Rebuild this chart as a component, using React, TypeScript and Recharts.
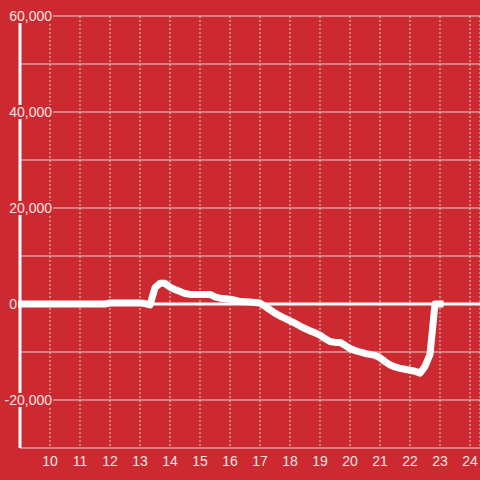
import { LineChart, Line, XAxis, YAxis, CartesianGrid, ReferenceLine } from "recharts"

const BG = "#cc2a30"
const TEXT = "#f6e4e4"
const GRID = "#d9d4d4"

const times = [
  "9:00", "10:00", "11:00", "11:50", "12:00", "13:00", "13:10", "13:20", "13:30", "13:40",
  "13:50", "14:00", "14:10", "14:20", "14:30", "14:40", "15:00", "15:20", "15:30", "15:40",
  "16:00", "16:10", "16:20", "16:40", "17:00", "17:10", "17:20", "17:30", "17:40", "17:50",
  "18:00", "18:10", "18:20", "18:30", "18:40", "18:50", "19:00", "19:10", "19:20", "19:30",
  "19:40", "19:50", "20:00", "20:10", "20:20", "20:30", "20:40", "20:50", "21:00", "21:10",
  "21:20", "21:30", "21:40", "21:50", "22:00", "22:10", "22:20", "22:30", "22:40", "22:50",
  "23:00",
]

const values = [
  0, 0, 0, 0, 200, 200, 100, -200, 3400, 4300,
  4300, 3500, 3000, 2600, 2200, 2000, 2000, 2000, 1500, 1200,
  1000, 800, 500, 400, 200, -500, -1200, -1900, -2500, -3000,
  -3500, -4000, -4600, -5100, -5600, -6000, -6500, -7200, -7800, -8000,
  -8000, -8600, -9300, -9700, -10000, -10300, -10500, -10700, -11200, -12000,
  -12700, -13100, -13400, -13600, -13800, -14000, -14400, -13000, -10500, 0,
  0,
]

const xTicks = [10, 11, 12, 13, 14, 15, 16, 17, 18, 19, 20, 21, 22, 23, 24]
const yTicks = [-30000, -20000, -10000, 0, 10000, 20000, 30000, 40000, 50000, 60000]

const toHour = (t: string) => {
  const [h, m] = t.split(":").map(Number)
  return h + m / 60
}

const data = times.map((t, i) => ({ hour: toHour(t), value: values[i] }))

function YTick(props: any) {
  const { y, payload } = props
  const v = payload.value as number
  if (v % 20000 !== 0) return null
  const label = v.toLocaleString("en-US")
  const right = v === 0 ? 17 : 52
  const left = v === 0 ? 6 : 0
  return (
    <g>
      <rect x={left} y={y - 7} width={right - left + 1} height={14} fill={BG} />
      <text
        x={right}
        y={y}
        dy="0.36em"
        textAnchor="end"
        fill={TEXT}
        fontSize={14}
        fontFamily="'Liberation Sans', Arial, sans-serif"
      >
        {label}
      </text>
    </g>
  )
}

export default function App() {
  return (
    <div style={{ position: "absolute", left: 0, top: 0, width: 480, height: 480, background: BG }}>
      <LineChart
        width={480}
        height={480}
        data={data}
        margin={{ top: 16, right: 0, bottom: 0, left: 0 }}
      >
        <CartesianGrid vertical={false} stroke={GRID} strokeWidth={1} />
        <CartesianGrid horizontal={false} stroke={GRID} strokeDasharray="2 2" />
        <XAxis
          dataKey="hour"
          type="number"
          domain={[9, 73 / 3]}
          ticks={xTicks}
          axisLine={false}
          tickLine={false}
          height={32}
          interval={0}
          tick={{ fill: TEXT, fontSize: 14, fontFamily: "'Liberation Sans', Arial, sans-serif" }}
        />
        <YAxis
          type="number"
          domain={[-30000, 60000]}
          ticks={yTicks}
          width={20}
          interval={0}
          tickLine={false}
          axisLine={{ stroke: "#ffffff", strokeWidth: 3 }}
          tick={<YTick />}
        />
        <ReferenceLine y={0} stroke="#ffffff" strokeWidth={3} />
        <Line
          dataKey="value"
          type="linear"
          stroke="#ffffff"
          strokeWidth={7}
          strokeLinecap="square"
          strokeLinejoin="round"
          dot={false}
          activeDot={false}
          isAnimationActive={false}
        />
      </LineChart>
    </div>
  )
}
